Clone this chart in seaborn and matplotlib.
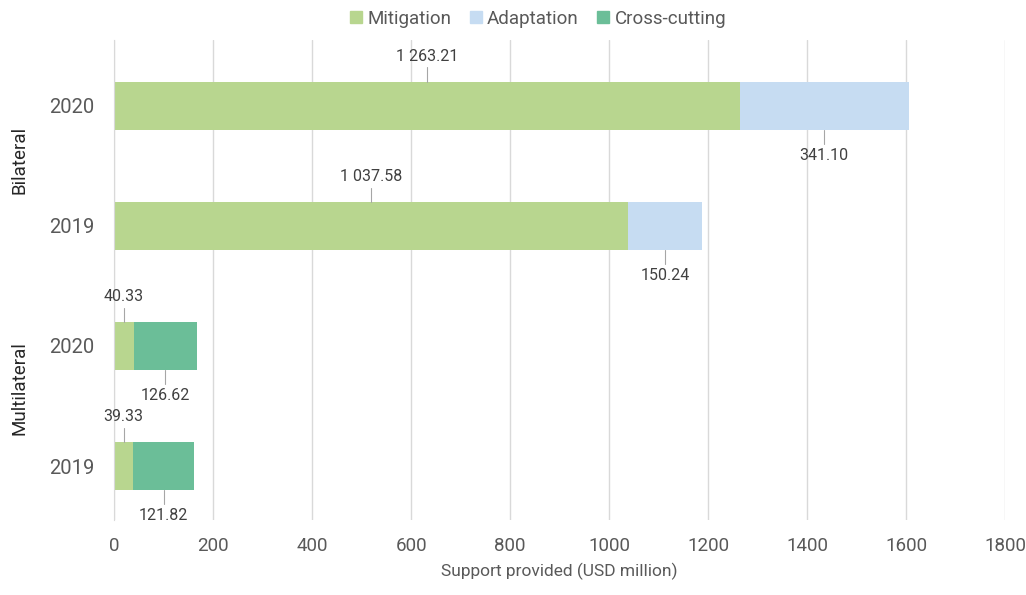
import pandas as pd
import matplotlib.pyplot as plt
import seaborn as sns
from matplotlib.lines import Line2D

# ========= DATA =========
groups = ["Bilateral", "Bilateral", "Multilateral", "Multilateral"]
years = ["2020", "2019", "2020", "2019"]
mitigation = [1263.21, 1037.58, 40.33, 39.33]
adaptation = [341.10, 150.24, 0.0, 0.0]
cross_cutting = [0.0, 0.0, 126.62, 121.82]

COLORS = {"Mitigation": "#b8d68f", "Adaptation": "#c6dcf2", "Cross-cutting": "#6bbe98"}
TXT = "#595959"

df = pd.DataFrame({"group": groups, "year": years,
                   "Mitigation": mitigation, "Adaptation": adaptation,
                   "Cross-cutting": cross_cutting})
df["row"] = df["group"] + " " + df["year"]
df["lvl1"] = df["Mitigation"]
df["lvl2"] = df["Mitigation"] + df["Adaptation"]
df["lvl3"] = df["lvl2"] + df["Cross-cutting"]

sns.set_style("white")
plt.rcParams["font.family"] = ["Roboto", "DejaVu Sans"]

fig, ax = plt.subplots(figsize=(10.26, 5.95), dpi=100)

# stacked bars drawn as cumulative overlays
for col, name in [("lvl3", "Cross-cutting"), ("lvl2", "Adaptation"), ("lvl1", "Mitigation")]:
    sns.barplot(data=df, y="row", x=col, orient="h", color=COLORS[name],
                width=0.4, saturation=1, linewidth=0, ax=ax)

ax.set_xlim(0, 1800)
ax.set_ylim(3.45, -0.55)
ax.set_xticks(range(0, 1801, 200))
ax.tick_params(axis="x", labelsize=13.5, colors=TXT, length=0, pad=12)
ax.tick_params(axis="y", labelsize=14.5, colors=TXT, length=0, pad=14)
ax.set_yticks(range(len(years)))
ax.set_yticklabels(years)
ax.xaxis.grid(True, color="#d9d9d9", linewidth=1)
ax.set_axisbelow(True)
for s in ["top", "right", "bottom"]:
    ax.spines[s].set_visible(False)
ax.spines["left"].set_color("#d9d9d9")
ax.set_xlabel("Support provided (USD million)", fontsize=12.5, color=TXT, labelpad=6)
ax.set_ylabel("")


def fmt(v, sep):
    return f"{v:,.2f}".replace(",", sep)


# data labels with leader lines
for i, r in df.iterrows():
    m = r["Mitigation"]
    xm = m / 2
    ax.plot([xm, xm], [i - 0.2, i - 0.32], color="#a6a6a6", lw=0.8, clip_on=False)
    ax.text(xm, i - 0.35, fmt(m, " "), ha="center", va="bottom",
            fontsize=11.5, color="#404040")
    other = r["Adaptation"] if r["Adaptation"] > 0 else r["Cross-cutting"]
    xo = m + other / 2
    ax.plot([xo, xo], [i + 0.2, i + 0.32], color="#a6a6a6", lw=0.8, clip_on=False)
    ax.text(xo, i + 0.35, fmt(other, " "), ha="center", va="top",
            fontsize=11.5, color="#404040")

# group labels
for name, pos in [("Bilateral", 0.45), ("Multilateral", 2.35)]:
    ax.text(-0.106, pos, name, transform=ax.get_yaxis_transform(), rotation=90,
            ha="center", va="center", fontsize=13.5, color="#262626")

handles = [Line2D([], [], marker="s", linestyle="", markersize=8,
                  markerfacecolor=c, markeredgecolor=c) for c in COLORS.values()]
fig.legend(handles, list(COLORS.keys()), loc="upper center", ncol=3, frameon=False,
           bbox_to_anchor=(0.522, 1.012), fontsize=13.5, labelcolor=TXT,
           handletextpad=0.0, columnspacing=0.7, handlelength=1.2)

plt.subplots_adjust(left=0.111, right=0.98, top=0.933, bottom=0.126)
plt.savefig("out.png", dpi=100)
plt.close()
